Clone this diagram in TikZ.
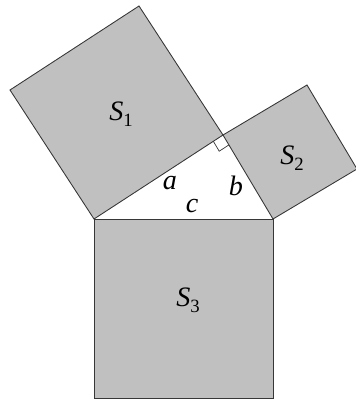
\documentclass[tikz,border=0pt]{standalone}
\usepackage{fontspec}
\setmainfont{Liberation Serif}
\usetikzlibrary{calc}
\definecolor{sqgray}{RGB}{192,192,192}
\definecolor{linegray}{RGB}{55,55,55}
\newcommand{\sublbl}[2]{\textit{#1}\raisebox{-0.45ex}{\fontsize{16}{16}\selectfont #2}}
\begin{document}
\begin{tikzpicture}[x=0.03cm,y=-0.03cm,
  sq/.style={fill=sqgray, draw=linegray, line width=0.75pt, line join=miter},
  lbl/.style={font=\fontsize{24}{28}\selectfont, inner sep=0pt},
  ltr/.style={font=\fontsize{24}{28}\selectfont\itshape, inner sep=0pt}]
\useasboundingbox (0,0) rectangle (355,401);
\coordinate (A) at (94,219);
\coordinate (B) at (273,219);
\coordinate (C) at (223,135);
% squares
\draw[sq] (A) -- (C) -- ($(C)+(-84,-129)$) -- ($(A)+(-84,-129)$) -- cycle;
\draw[sq] (C) -- (B) -- ($(B)+(84,-50)$) -- ($(C)+(84,-50)$) -- cycle;
\draw[sq] (A) -- (B) -- ($(B)+(0,179)$) -- ($(A)+(0,179)$) -- cycle;
% right angle marker
\coordinate (P1) at ($(C)!0.075!(A)$);
\coordinate (P2) at ($(C)!0.118!(B)$);
\draw[draw=linegray, line width=0.6pt] (P1) -- ($(P1)+(P2)-(C)$) -- (P2);
% labels
\node[lbl] (s1) at (121,114) {\sublbl{S}{1}};
\node[lbl] (s2) at (292,158) {\sublbl{S}{2}};
\node[lbl] (s3) at (188,300) {\sublbl{S}{3}};
\node[ltr] (la) at (170,183) {a};
\node[ltr] (lb) at (236,186) {b};
\node[ltr] (lc) at (192,206) {c};
\end{tikzpicture}
\end{document}
